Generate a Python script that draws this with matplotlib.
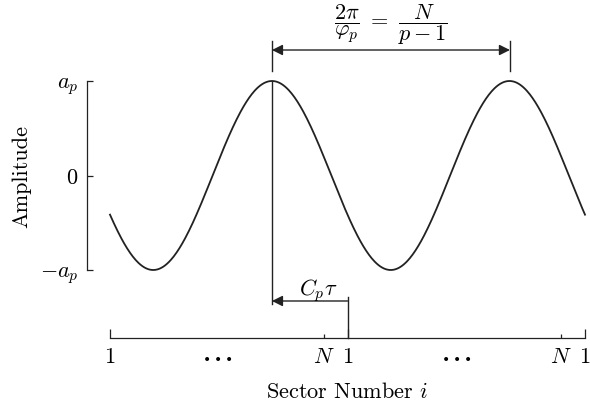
import numpy as np
import matplotlib
matplotlib.use('Agg')
import matplotlib.pyplot as plt

plt.rcParams['font.family'] = 'serif'
plt.rcParams['font.serif'] = ['cmr10', 'DejaVu Serif']
plt.rcParams['mathtext.fontset'] = 'cm'
plt.rcParams['axes.formatter.use_mathtext'] = True

# amplitude ticks
amp_ticks = [-1, 0, 1]
amp_labels = [r'$-a_p$', r'$0$', r'$a_p$']

# sector axis: two revolutions, 1 .. N | 1 .. N | 1
rev_ticks = [0, 1, 2]
rev_labels = ['1', '1', '1']
last_ticks = [0.9, 1.9]
last_labels = [r'$N$', r'$N$']
dots_pos = [0.455, 1.46]

# wave: one period per revolution, first peak at 0.682 rev
a_p = 1.0
peak1 = 0.682
peak2 = 1.684
lag_end = 1.0          # C_p tau arrow ends at start of 2nd revolution

x = np.linspace(0, 2, 500)
y = a_p * np.cos(2 * np.pi * (x - peak1))

col = '#222222'
W, H = 590, 410
fig = plt.figure(figsize=(W / 100, H / 100), dpi=100)

ax = fig.add_axes([110 / W, (H - 271) / H, 475 / W, 189 / H])
ax.plot(x, y, color=col, lw=1.3, clip_on=False)
ax.set_xlim(0, 2)
ax.set_ylim(-1, 1)
for s in ['top', 'right', 'bottom']:
    ax.spines[s].set_visible(False)
ax.spines['left'].set_position(('outward', 23 * 0.72))
ax.spines['left'].set_linewidth(0.9)
ax.spines['left'].set_color(col)
ax.set_xticks([])
ax.set_yticks(amp_ticks)
ax.set_yticklabels(amp_labels)
ax.tick_params(axis='y', direction='in', length=4, width=0.9, pad=6,
               labelsize=16, color=col)
ax.set_ylabel('Amplitude', fontsize=16, labelpad=6)

# period arrow on top
ax.plot([peak1, peak1], [1.106, 1.423], color=col, lw=1, clip_on=False)
ax.plot([peak2, peak2], [1.106, 1.423], color=col, lw=1, clip_on=False)
ax.annotate('', xy=(peak1, 1.328), xytext=(peak2, 1.328), annotation_clip=False,
            arrowprops=dict(arrowstyle='<|-|>', color=col, lw=1,
                            mutation_scale=16, shrinkA=0, shrinkB=0))
ax.text((peak1 + peak2) / 2, 1.61, r'$\dfrac{2\pi}{\varphi_p}\ =\ \dfrac{N}{p-1}$',
        ha='center', va='center', fontsize=16)

# C_p tau arrow
ax.plot([peak1, peak1], [1, -1.36], color=col, lw=1, clip_on=False)
ax.plot([lag_end, lag_end], [-1.286, -1.72], color=col, lw=1, clip_on=False)
ax.annotate('', xy=(peak1, -1.328), xytext=(lag_end, -1.328), annotation_clip=False,
            arrowprops=dict(arrowstyle='-|>', color=col, lw=1,
                            mutation_scale=16, shrinkA=0, shrinkB=0))
ax.text(0.876, -1.21, r'$C_p\tau$', ha='center', va='center', fontsize=16)

# sector number axis
ax2 = fig.add_axes([110 / W, (H - 339) / H, 475 / W, 0.001])
ax2.patch.set_visible(False)
for s in ['top', 'right', 'left']:
    ax2.spines[s].set_visible(False)
ax2.spines['bottom'].set_linewidth(0.9)
ax2.spines['bottom'].set_color(col)
ax2.set_xlim(0, 2)
ax2.set_yticks([])
ax2.set_xticks(rev_ticks)
ax2.set_xticklabels(rev_labels)
ax2.set_xticks(last_ticks, minor=True)
ax2.set_xticklabels(last_labels, minor=True)
ax2.tick_params(axis='x', which='major', direction='in', length=6.5, width=0.9,
                pad=6, labelsize=16, color=col)
ax2.tick_params(axis='x', which='minor', direction='in', length=3, width=0.9,
                pad=6, labelsize=16, color=col)
for d in dots_pos:
    ax2.annotate('•\u2009•\u2009•', xy=(d, 0), xycoords=('data', 'axes fraction'),
                 xytext=(0, -15), textcoords='offset points',
                 ha='center', va='center', fontsize=10, family='DejaVu Sans')
ax2.set_xlabel('Sector Number $i$', fontsize=16, labelpad=11)

fig.savefig('out.png', dpi=100)
